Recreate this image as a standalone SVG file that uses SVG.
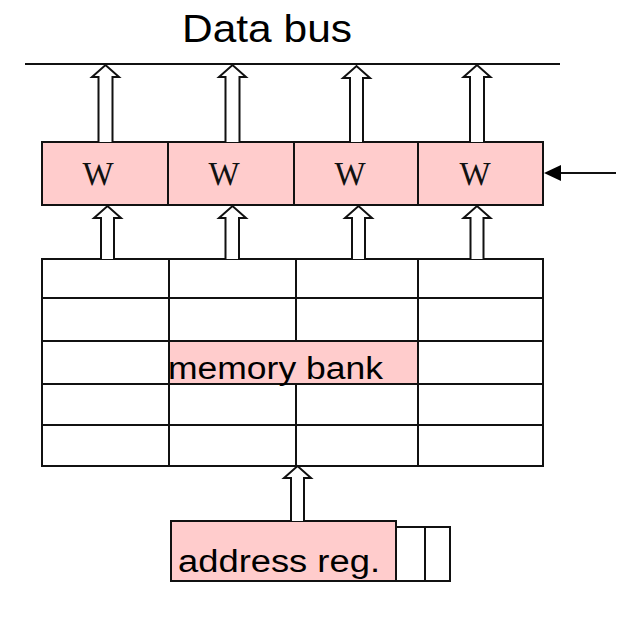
<svg xmlns="http://www.w3.org/2000/svg" width="637" height="617" viewBox="0 0 637 617">
<style>
.ln{stroke:#111;stroke-width:2;fill:none}
.pink{fill:#ffcccc;stroke:#111;stroke-width:2}
.cell{fill:#fff;stroke:#111;stroke-width:2}
.arr{fill:#fff;stroke:#111;stroke-width:2;stroke-linejoin:miter}
.w{font-family:"Liberation Serif",serif;font-size:33px;fill:#111;text-anchor:middle}
.lbl{font-family:"Liberation Sans",Arial,sans-serif;fill:#000}
</style>
<rect width="637" height="617" fill="#fff"/>
<g id="title"><text class="lbl" x="182" y="42" font-size="39" textLength="170" lengthAdjust="spacingAndGlyphs">Data bus</text></g>
<g id="data-bus"><line class="ln" x1="25" y1="64" x2="560" y2="64"/></g>
<g id="w-register">
<rect class="pink" x="42" y="142" width="126" height="63"/>
<rect class="pink" x="168" y="142" width="126" height="63"/>
<rect class="pink" x="294" y="142" width="124" height="63"/>
<rect class="pink" x="418" y="142" width="125" height="63"/>
<text class="w" x="98" y="185">W</text>
<text class="w" x="224" y="185">W</text>
<text class="w" x="350" y="185">W</text>
<text class="w" x="475" y="185">W</text>
</g>
<g id="memory-bank">
<rect class="cell" x="42" y="259" width="501" height="207"/>
<path class="ln" d="M42,298 H543 M42,341 H543 M42,384 H543 M42,425 H543 M169,259 V466 M296,259 V466 M418,259 V466"/>
<rect x="170" y="342" width="247" height="41" fill="#ffcccc"/>
<text class="lbl" x="168" y="379" font-size="31" textLength="215" lengthAdjust="spacingAndGlyphs">memory bank</text>
</g>
<g id="address-reg">
<rect class="pink" x="171" y="521" width="225" height="60"/>
<rect class="cell" x="396" y="527" width="29" height="54"/>
<rect class="cell" x="425" y="527" width="25" height="54"/>
<text class="lbl" x="178" y="572" font-size="31" textLength="202" lengthAdjust="spacingAndGlyphs">address reg.</text>
</g>
<g id="connectors">
<path class="arr" d="M98.5,142 V77 H92 L105.5,65 L119,77 H112.5 V142"/>
<path class="arr" d="M225.5,142 V77 H219 L232.5,65 L246,77 H239.5 V142"/>
<path class="arr" d="M350,142 V78 H343 L356.5,66 L370,78 H363 V142"/>
<path class="arr" d="M470,142 V77 H463.5 L477,65 L490.5,77 H484 V142"/>
<path class="arr" d="M101,259 V218 H94 L107.5,206 L121,218 H114 V259"/>
<path class="arr" d="M225.5,259 V218 H219 L232.5,206 L246,218 H239 V259"/>
<path class="arr" d="M352,259 V218 H345 L358.5,206 L372,218 H365 V259"/>
<path class="arr" d="M470.5,259 V218 H463.5 L477,206 L490.5,218 H483.5 V259"/>
<path class="arr" d="M291,521 V478 H284 L297.5,466 L311,478 H304 V521"/>
<line class="ln" x1="616" y1="173" x2="546" y2="173"/>
<path d="M544,173 L561,165 L561,181 Z" fill="#000"/>
</g>
</svg>
